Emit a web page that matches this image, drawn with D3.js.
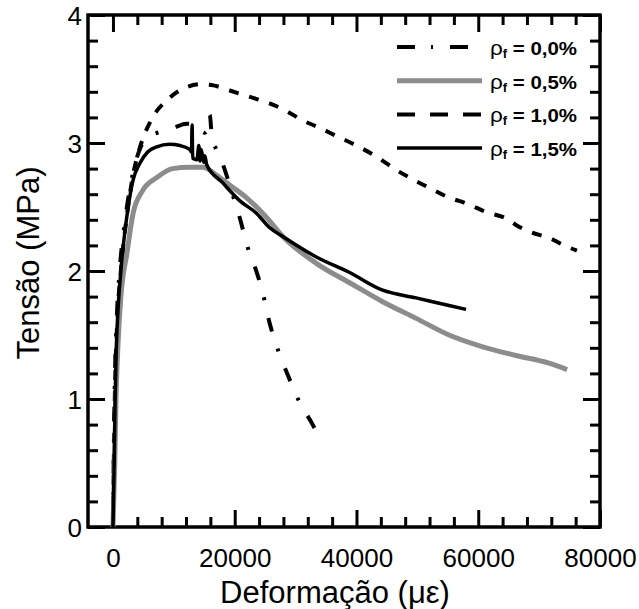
<!DOCTYPE html>
<html>
<head>
<meta charset="utf-8">
<script src="https://cdn.jsdelivr.net/npm/d3@7"></script>
<style>
  body { margin: 0; background: #fff; }
  svg { display: block; font-family: "Liberation Sans", Arial, sans-serif; }
</style>
</head>
<body>
<svg id="chart" width="639" height="609"></svg>
<script>
// strain (micro-strain) / stress (MPa)
const x00 = [0, 250, 600, 1100, 2000, 3000, 4400, 6000, 8000, 10000, 12100, 13500, 15000, 15500, 15900, 16300, 17000, 18000, 19500, 20800, 22100, 23400, 24600, 25700, 27200, 28700, 30500, 32800, 34300];
const y00 = [0, 1.0, 1.6, 2.0, 2.4, 2.7, 2.95, 3.05, 3.09, 3.12, 3.15, 3.15, 3.08, 3.1, 3.22, 3.02, 2.95, 2.84, 2.62, 2.42, 2.19, 2.02, 1.83, 1.60, 1.37, 1.19, 0.99, 0.80, 0.66];

const x05 = [0, 300, 500, 800, 1300, 2300, 3300, 4900, 7200, 9800, 12600, 14800, 17000, 19200, 22000, 25200, 27900, 33400, 38800, 44300, 49800, 55200, 60600, 66200, 71600, 74600];
const y05 = [0, 0.5, 1.0, 1.4, 1.8, 2.14, 2.45, 2.63, 2.73, 2.80, 2.81, 2.81, 2.75, 2.67, 2.57, 2.42, 2.27, 2.06, 1.91, 1.76, 1.63, 1.50, 1.41, 1.34, 1.28, 1.23];

const x10 = [0, 300, 700, 1300, 2200, 3300, 4400, 6400, 9000, 12300, 14500, 16500, 19200, 22500, 25700, 28500, 31000, 33900, 36900, 40000, 43400, 46500, 49500, 52400, 54900, 58500, 61300, 64600, 66200, 68800, 71600, 74100, 76200];
const y10 = [0, 1.0, 1.6, 2.0, 2.4, 2.75, 2.96, 3.19, 3.34, 3.44, 3.46, 3.45, 3.41, 3.36, 3.31, 3.25, 3.18, 3.12, 3.05, 2.98, 2.89, 2.79, 2.71, 2.64, 2.58, 2.52, 2.46, 2.41, 2.36, 2.30, 2.26, 2.20, 2.16];

const x15 = [0, 200, 350, 550, 900, 1300, 1700, 2500, 3300, 4400, 5700, 7200, 9300, 11000, 12600, 12900, 13000, 13100, 13800, 14100, 14300, 14500, 14900, 15100, 15400, 18000, 20800, 23600, 25700, 27900, 33400, 38800, 44300, 49800, 55200, 58000];
const y15 = [0, 0.5, 1.0, 1.4, 1.75, 2.0, 2.2, 2.5, 2.71, 2.84, 2.93, 2.97, 2.99, 2.98, 2.95, 2.93, 3.14, 2.88, 2.87, 2.98, 2.86, 2.95, 2.85, 2.9, 2.83, 2.69, 2.55, 2.45, 2.34, 2.27, 2.11, 1.99, 1.85, 1.79, 1.73, 1.70];

const legendLabels = ["0,0%", "0,5%", "1,0%", "1,5%"];
const xTickValues = [0, 20000, 40000, 60000, 80000];
const yTickValues = [0, 1, 2, 3, 4];

const font = "Liberation Sans, Arial, sans-serif";
const svg = d3.select("#chart");
const width = 639, height = 609;
const margin = { top: 15, right: 39, bottom: 82, left: 88 };

const x = d3.scaleLinear().domain([-4100, 80000]).range([margin.left, width - margin.right]);
const y = d3.scaleLinear().domain([0, 4]).range([height - margin.bottom, margin.top]);

const xMinor = d3.range(4000, 80000, 4000).filter(d => d % 20000 !== 0);
const yMinor = d3.range(0.2, 4, 0.2).filter(d => Math.abs(d - Math.round(d)) > 0.01);

function styleAxis(g) {
  g.attr("font-family", font);
  g.select(".domain").remove();
  g.selectAll(".tick line").attr("stroke", "#000").attr("stroke-width", 3);
}

// bottom axis with labels
svg.append("g")
  .attr("transform", `translate(0,${y(0)})`)
  .call(d3.axisBottom(x).tickValues(xTickValues).tickSize(-17).tickPadding(22).tickFormat(d3.format("d")))
  .call(styleAxis)
  .call(g => g.selectAll("text").attr("font-size", 26).attr("fill", "#000"));
svg.append("g")
  .attr("transform", `translate(0,${y(0)})`)
  .call(d3.axisBottom(x).tickValues(xMinor).tickSize(-10).tickFormat(""))
  .call(styleAxis);
// top axis
svg.append("g")
  .attr("transform", `translate(0,${y(4)})`)
  .call(d3.axisTop(x).tickValues(xTickValues).tickSize(-17).tickFormat(""))
  .call(styleAxis);
svg.append("g")
  .attr("transform", `translate(0,${y(4)})`)
  .call(d3.axisTop(x).tickValues(xMinor).tickSize(-10).tickFormat(""))
  .call(styleAxis);
// left axis with labels
svg.append("g")
  .attr("transform", `translate(${x.range()[0]},0)`)
  .call(d3.axisLeft(y).tickValues(yTickValues).tickSize(-17).tickPadding(6).tickFormat(d3.format("d")))
  .call(styleAxis)
  .call(g => g.selectAll("text").attr("font-size", 26).attr("fill", "#000").attr("dy", "0.36em"));
svg.append("g")
  .attr("transform", `translate(${x.range()[0]},0)`)
  .call(d3.axisLeft(y).tickValues(yMinor).tickSize(-10).tickFormat(""))
  .call(styleAxis);
// right axis
svg.append("g")
  .attr("transform", `translate(${x.range()[1]},0)`)
  .call(d3.axisRight(y).tickValues(yTickValues).tickSize(-17).tickFormat(""))
  .call(styleAxis);
svg.append("g")
  .attr("transform", `translate(${x.range()[1]},0)`)
  .call(d3.axisRight(y).tickValues(yMinor).tickSize(-10).tickFormat(""))
  .call(styleAxis);

// frame
svg.append("rect")
  .attr("x", x.range()[0]).attr("y", y(4))
  .attr("width", x.range()[1] - x.range()[0])
  .attr("height", y(0) - y(4))
  .attr("fill", "none").attr("stroke", "#000").attr("stroke-width", 3.5);

const series = [
  { xs: x10, ys: y10, color: "#000", width: 4, dash: "10,11", legendDash: "18,15" },
  { xs: x00, ys: y00, color: "#000", width: 4, dash: "14,18,3,18", legendDash: "18,16,2,17" },
  { xs: x05, ys: y05, color: "#8c8c8c", width: 5, dash: null, legendDash: null },
  { xs: x15, ys: y15, color: "#000", width: 3.5, dash: null, legendDash: null }
];

const line = d3.line()
  .x(d => x(d[0]))
  .y(d => y(d[1]))
  .curve(d3.curveMonotoneX);

series.forEach(s => {
  svg.append("path")
    .datum(d3.zip(s.xs, s.ys))
    .attr("fill", "none")
    .attr("stroke", s.color)
    .attr("stroke-width", s.width)
    .attr("stroke-dasharray", s.dash)
    .attr("stroke-linejoin", "round")
    .attr("d", line);
});

// legend
const legendOrder = [1, 2, 0, 3];
const legend = svg.append("g");
legendOrder.forEach((si, i) => {
  const s = series[si];
  const ly = 47 + i * 33.7;
  legend.append("line")
    .attr("x1", 397).attr("x2", 482)
    .attr("y1", ly).attr("y2", ly)
    .attr("stroke", s.color)
    .attr("stroke-width", s.width)
    .attr("stroke-dasharray", s.legendDash);
  const t = legend.append("text")
    .attr("x", 490).attr("y", ly + 8)
    .attr("font-size", 19)
    .attr("textLength", 87)
    .attr("lengthAdjust", "spacingAndGlyphs");
  t.append("tspan").attr("font-size", 21).text("ρ");
  t.append("tspan").attr("font-size", 12).attr("font-weight", "bold").attr("dy", 3).text("f");
  t.append("tspan").attr("font-weight", "bold").attr("dy", -3).text(" = " + legendLabels[i]);
});

// axis titles
svg.append("text")
  .attr("x", 335).attr("y", 603)
  .attr("text-anchor", "middle")
  .attr("font-size", 31)
  .text("Deformação (με)");

svg.append("text")
  .attr("transform", "translate(39,263) rotate(-90)")
  .attr("text-anchor", "middle")
  .attr("font-size", 31)
  .text("Tensão (MPa)");
</script>
</body>
</html>
